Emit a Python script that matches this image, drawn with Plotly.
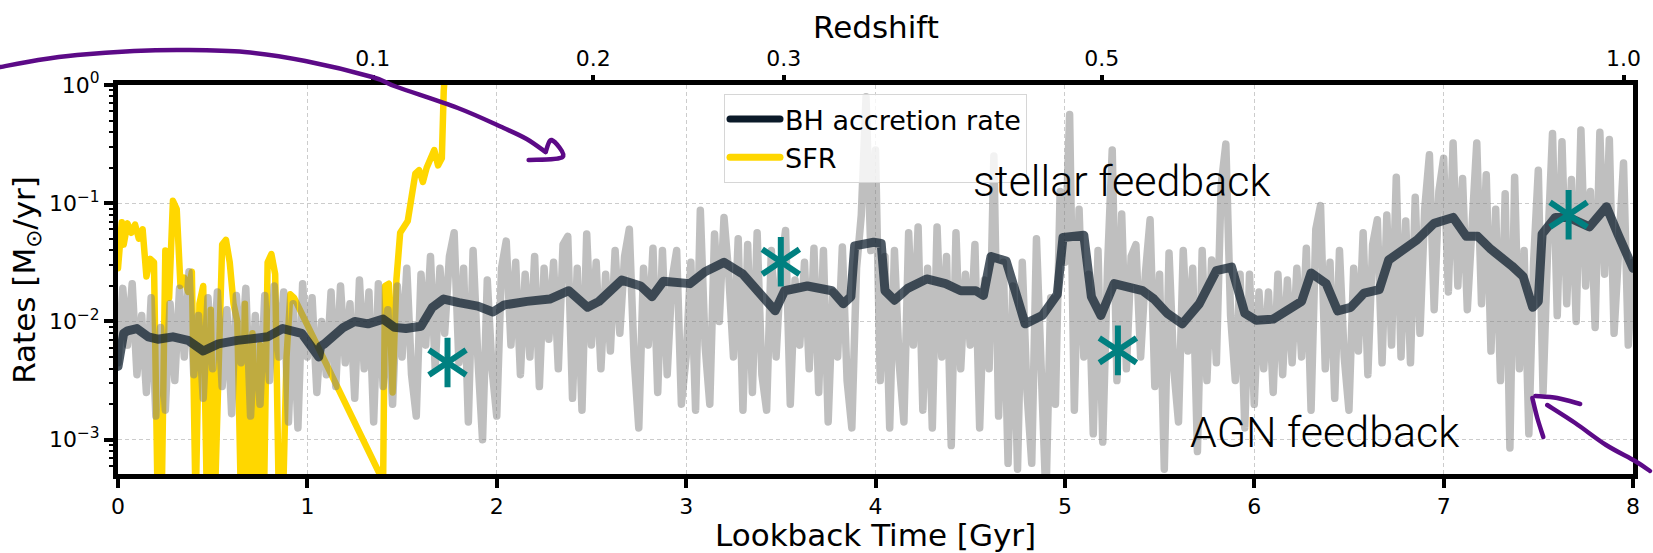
import numpy as np
import plotly.graph_objects as go

# ---------------- data ----------------
# raw BH accretion rate, log10(Msun/yr), sampled every 0.025 Gyr from 0 to 8 Gyr
bh_raw_log10 = [
    -2.35, -1.72, -2.20, -1.68, -2.45, -1.95, -2.60, -1.80, -2.80, -2.05,
    -2.75, -1.85, -2.50, -1.72, -2.30, -1.58, -2.45, -1.95, -2.65, -1.80,
    -2.40, -1.75, -2.55, -1.90, -2.78, -1.78, -2.35, -1.72, -2.80, -1.95,
    -2.70, -1.78, -2.50, -1.70, -2.30, -1.75, -2.85, -1.85, -2.90, -1.68,
    -2.30, -1.80, -2.60, -2.00, -2.45, -1.75, -2.55, -1.70, -2.35, -1.85,
    -2.65, -1.65, -2.40, -1.75, -2.85, -1.68, -2.55, -1.90, -2.70, -1.70,
    -2.30, -1.55, -2.45, -2.80, -1.60, -2.20, -1.45, -2.40, -1.55, -2.10,
    -1.45, -1.25, -2.35, -1.55, -2.85, -1.40, -2.30, -3.00, -1.65, -2.40,
    -2.80, -1.55, -1.32, -2.20, -1.50, -2.45, -1.60, -2.30, -1.45, -2.55,
    -1.55, -2.15, -1.50, -2.40, -1.35, -1.28, -2.65, -1.55, -2.75, -1.26,
    -2.20, -1.50, -2.40, -1.60, -2.25, -1.40, -2.10, -1.45, -1.22, -2.30,
    -2.90, -1.55, -2.20, -1.38, -2.60, -1.40, -2.45, -1.65, -1.40, -2.70,
    -2.30, -1.50, -2.75, -1.06, -2.20, -2.70, -1.26, -2.00, -1.12, -1.60,
    -2.30, -1.30, -2.75, -1.35, -2.60, -1.25, -2.45, -2.75, -1.40, -2.30,
    -1.55, -1.23, -2.70, -1.65, -2.20, -1.50, -2.40, -1.38, -2.60, -1.40,
    -2.85, -1.75, -2.30, -1.37, -2.50, -2.90, -1.55, -1.10, -0.10, -1.40,
    -0.55, -2.50, -1.45, -2.90, -1.40, -2.35, -2.85, -1.25, -2.20, -1.20,
    -2.75, -1.55, -2.90, -1.20, -2.30, -1.45, -3.05, -1.25, -2.40, -1.60,
    -2.20, -1.35, -2.90, -1.65, -2.40, -0.60, -2.80, -1.50, -3.20, -1.70,
    -3.25, -1.50, -2.60, -3.20, -1.30, -2.40, -3.50, -1.80, -2.70, -0.90,
    -1.50, -0.25, -2.75, -1.05, -2.30, -1.60, -2.95, -1.40, -3.02, -1.55,
    -0.55, -2.50, -1.09, -2.40, -1.45, -1.35, -2.30, -1.60, -1.14, -2.55,
    -1.60, -3.25, -1.42, -2.40, -2.85, -1.40, -2.25, -1.55, -3.10, -1.40,
    -2.50, -1.48, -2.35, -0.85, -0.50, -1.95, -2.50, -1.60, -2.90, -1.60,
    -2.70, -1.75, -2.40, -1.75, -2.60, -1.60, -2.45, -1.65, -2.35, -1.55,
    -2.30, -1.38, -2.75, -1.22, -1.02, -2.40, -1.50, -2.65, -1.40, -2.30,
    -2.75, -1.55, -2.25, -1.25, -2.45, -1.35, -1.14, -2.35, -1.10, -2.20,
    -0.78, -2.30, -1.15, -2.35, -0.95, -2.10, -1.05, -0.59, -1.90, -0.90,
    -0.62, -1.75, -0.49, -1.70, -0.79, -1.90, -1.10, -0.49, -1.85, -0.76,
    -2.25, -1.05, -2.50, -0.92, -3.07, -0.78, -2.40, -1.40, -2.95, -1.50,
    -0.72, -2.60, -1.35, -0.41, -1.95, -0.48, -1.85, -0.80, -2.00, -0.38,
    -1.70, -0.90, -2.05, -0.40, -1.60, -0.46, -2.10, -1.40, -0.66, -2.20,
    -1.50,
]

# smoothed BH accretion rate (running mean)
bh_smooth_t = [
    0.00, 0.03, 0.05, 0.10, 0.16, 0.21, 0.29, 0.37, 0.45, 0.53, 0.63, 0.79,
    0.87, 0.97, 1.06, 1.07, 1.09, 1.19, 1.25, 1.32, 1.40, 1.46, 1.52, 1.60,
    1.66, 1.72, 1.80, 1.90, 1.98, 2.04, 2.16, 2.28, 2.38, 2.48, 2.54, 2.66,
    2.76, 2.82, 2.88, 3.02, 3.10, 3.20, 3.30, 3.38, 3.47, 3.52, 3.64, 3.77,
    3.83, 3.87, 3.89, 3.99, 4.03, 4.05, 4.10, 4.17, 4.27, 4.37, 4.45, 4.53,
    4.57, 4.61, 4.69, 4.73, 4.79, 4.88, 4.96, 4.99, 5.10, 5.14, 5.19, 5.26,
    5.34, 5.41, 5.47, 5.54, 5.62, 5.71, 5.80, 5.88, 5.95, 6.01, 6.10, 6.17,
    6.25, 6.30, 6.38, 6.44, 6.51, 6.58, 6.66, 6.71, 6.80, 6.86, 6.95, 7.05,
    7.12, 7.18, 7.25, 7.31, 7.36, 7.42, 7.47, 7.50, 7.52, 7.59, 7.66, 7.77,
    7.86, 7.92, 8.00,
]
bh_smooth_log10 = [
    -2.38, -2.10, -2.08, -2.06, -2.13, -2.15, -2.13, -2.16, -2.25, -2.19, -2.16, -2.13,
    -2.06, -2.10, -2.30, -2.21, -2.19, -2.05, -2.00, -2.02, -1.98, -2.05, -2.06, -2.04,
    -1.88, -1.81, -1.84, -1.87, -1.92, -1.86, -1.83, -1.81, -1.74, -1.88, -1.83, -1.65,
    -1.70, -1.79, -1.66, -1.68, -1.58, -1.50, -1.60, -1.76, -1.91, -1.74, -1.70, -1.74,
    -1.85, -1.79, -1.36, -1.33, -1.34, -1.74, -1.82, -1.72, -1.64, -1.68, -1.74, -1.74,
    -1.78, -1.45, -1.49, -1.70, -2.02, -1.95, -1.77, -1.29, -1.27, -1.79, -1.95, -1.68,
    -1.71, -1.74, -1.81, -1.93, -2.02, -1.85, -1.57, -1.54, -1.93, -1.99, -1.98, -1.91,
    -1.83, -1.59, -1.68, -1.91, -1.88, -1.76, -1.73, -1.48, -1.38, -1.31, -1.17, -1.12,
    -1.28, -1.28, -1.39, -1.46, -1.53, -1.62, -1.88, -1.83, -1.26, -1.12, -1.12, -1.20,
    -1.03, -1.26, -1.55,
]

# star formation rate (gap between 0.93 and 1.40 Gyr)
sfr_t = [
    0.00, 0.02, 0.03, 0.05, 0.07, 0.09, 0.11, 0.13, 0.15, 0.17, 0.19, 0.21,
    0.23, 0.25, 0.27, 0.29, 0.31, 0.33, 0.35, 0.37, 0.39, 0.41, 0.43, 0.45,
    0.47, 0.49, 0.51, 0.53, 0.55, 0.57, 0.59, 0.61, 0.63, 0.65, 0.67, 0.69,
    0.71, 0.73, 0.75, 0.77, 0.79, 0.81, 0.83, 0.85, 0.87, 0.89, 0.91, 0.93,
    1.40, 1.41, 1.43, 1.45, 1.47, 1.49, 1.51, 1.53, 1.55, 1.57, 1.59, 1.61,
    1.63, 1.65, 1.67, 1.69, 1.71, 1.72, 1.74,
]
sfr_log10 = [
    -1.55, -1.16, -1.35, -1.17, -1.25, -1.18, -1.30, -1.22, -1.62, -1.47, -1.50, -3.60,
    -3.60, -1.40, -1.80, -0.98, -1.05, -1.70, -1.63, -1.75, -1.58, -3.60, -1.85, -1.70,
    -3.60, -1.90, -3.60, -2.40, -1.35, -1.31, -1.50, -1.85, -2.00, -3.60, -1.85, -3.60,
    -2.10, -3.60, -2.20, -3.60, -1.50, -1.43, -1.60, -3.60, -3.60, -2.30, -1.77, -1.80,
    -3.35, -1.70, -1.68, -2.60, -1.65, -1.25, -1.20, -1.15, -0.95, -0.75, -0.72, -0.82,
    -0.70, -0.62, -0.55, -0.68, -0.62, -0.05, 0.40,
]

# teal asterisks
star_t = [1.74, 3.50, 5.28, 7.66]
star_rate = [0.0045, 0.032, 0.0057, 0.080]

# top axis (redshift) ticks at lookback times
redshift_tick_t = [1.345, 2.51, 3.515, 5.195, 7.95]
redshift_labels = ["0.1", "0.2", "0.3", "0.5", "1.0"]

# ---------------- figure ----------------
W, H = 1653, 553
ML, MR, MT, MB = 118, 15, 85, 79
PW, PH = W - ML - MR, H - MT - MB

def px(x):
    return (x - ML) / PW

def py(y):
    return (H - MB - y) / PH

t_raw = np.linspace(0, 8, len(bh_raw_log10))
bh_raw = 10 ** np.array(bh_raw_log10)
bh_smooth = 10 ** np.array(bh_smooth_log10)
sfr = 10 ** np.array(sfr_log10)

FONT = "DejaVu Sans"
fig = go.Figure()

fig.add_trace(go.Scatter(x=sfr_t, y=sfr, mode="lines", name="SFR",
                         line=dict(color="#FFD700", width=6.5), showlegend=False))
fig.add_trace(go.Scatter(x=t_raw, y=bh_raw, mode="lines", showlegend=False,
                         line=dict(color="rgba(128,128,128,0.5)", width=7.5)))
fig.add_trace(go.Scatter(x=bh_smooth_t, y=bh_smooth, mode="lines", showlegend=False,
                         line=dict(color="rgba(10,26,42,0.72)", width=9)))
for sym in ["y-up-open", "y-down-open"]:
    fig.add_trace(go.Scatter(x=star_t, y=star_rate, mode="markers", showlegend=False,
                             marker=dict(symbol=sym, size=31, color="#008080",
                                         line=dict(width=6, color="#008080"))))
# legend entries
fig.add_trace(go.Scatter(x=[None], y=[None], mode="lines", name="BH accretion rate",
                         line=dict(color="#0b1a29", width=7)))
fig.add_trace(go.Scatter(x=[None], y=[None], mode="lines", name="SFR",
                         line=dict(color="#FFD700", width=7)))
# invisible trace to activate the top axis
fig.add_trace(go.Scatter(x=[0, 8], y=[1e-2, 1e-2], xaxis="x2", mode="lines",
                         line=dict(width=0), hoverinfo="skip", showlegend=False))

minor_vals = [m * 10.0 ** e for e in range(-4, 0) for m in range(2, 10)]

fig.update_layout(
    width=W, height=H,
    margin=dict(l=ML, r=MR, t=MT, b=MB, pad=0),
    paper_bgcolor="white", plot_bgcolor="white",
    font=dict(family=FONT, size=22, color="black"),
    xaxis=dict(range=[0, 8], tickmode="array", tickvals=list(range(0, 9)),
               ticktext=[str(i) for i in range(0, 9)],
               ticks="outside", ticklen=9, tickwidth=4, tickcolor="black",
               showline=True, linewidth=5, linecolor="black", mirror=True,
               showgrid=True, gridcolor="#cccccc", gridwidth=1, griddash="4px,3px",
               zeroline=False, tickfont=dict(size=22, family=FONT)),
    xaxis2=dict(overlaying="x", side="top", range=[0, 8], tickmode="array",
                tickvals=redshift_tick_t, ticktext=redshift_labels,
                ticks="outside", ticklen=9, tickwidth=4, tickcolor="black",
                showline=False, showgrid=False, zeroline=False,
                tickfont=dict(size=22, family=FONT)),
    yaxis=dict(type="log", range=[-3.29, 0.0], tickmode="array",
               tickvals=[1, 0.1, 0.01, 0.001],
               ticktext=["10<sup>0</sup>", "10<sup>−1</sup>", "10<sup>−2</sup>", "10<sup>−3</sup>"],
               ticks="outside", ticklen=9, tickwidth=4, tickcolor="black",
               minor=dict(tickmode="array", tickvals=minor_vals, ticks="outside",
                          ticklen=4, tickwidth=2, tickcolor="black", showgrid=False),
               showline=True, linewidth=5, linecolor="black", mirror=True,
               showgrid=True, gridcolor="#cccccc", gridwidth=1, griddash="4px,3px",
               zeroline=False, tickfont=dict(size=22, family=FONT)),
    legend=dict(x=px(726), y=py(94), xanchor="left", yanchor="top",
                bgcolor="rgba(255,255,255,0.8)", bordercolor="#d6d6d6", borderwidth=1,
                font=dict(size=27, family=FONT), tracegroupgap=0, itemwidth=50),
    showlegend=True,
)

# axis titles
fig.add_annotation(text="Lookback Time [Gyr]", xref="paper", yref="paper",
                   x=0.5, y=py(535), xanchor="center", yanchor="middle",
                   showarrow=False, font=dict(size=31, family=FONT))
fig.add_annotation(text="Redshift", xref="paper", yref="paper",
                   x=0.5, y=py(27), xanchor="center", yanchor="middle",
                   showarrow=False, font=dict(size=31, family=FONT))
fig.add_annotation(text="Rates [M<sub>⊙</sub>/yr]", xref="paper", yref="paper",
                   x=px(26), y=0.5, xanchor="center", yanchor="middle", textangle=-90,
                   showarrow=False, font=dict(size=31, family=FONT))

# hand-written notes
NOTE_FONT = dict(size=43, family="Roboto", color="black", weight=300)
fig.add_annotation(text="stellar feedback", xref="paper", yref="paper",
                   x=px(1125), y=py(181), xanchor="center", yanchor="middle",
                   showarrow=False, font=NOTE_FONT)
fig.add_annotation(text="AGN feedback", xref="paper", yref="paper",
                   x=px(1328), y=py(432), xanchor="center", yanchor="middle",
                   showarrow=False, font=NOTE_FONT)

# hand-drawn purple arrows (pixel coordinates of the strokes)
def smooth_path(pts):
    p = [(px(x), py(y)) for x, y in pts]
    d = "M%.5f,%.5f" % p[0]
    for i in range(len(p) - 1):
        p0 = p[i - 1] if i > 0 else p[i]
        p1, p2 = p[i], p[i + 1]
        p3 = p[i + 2] if i + 2 < len(p) else p2
        c1 = (p1[0] + (p2[0] - p0[0]) / 6, p1[1] + (p2[1] - p0[1]) / 6)
        c2 = (p2[0] - (p3[0] - p1[0]) / 6, p2[1] - (p3[1] - p1[1]) / 6)
        d += " C%.5f,%.5f %.5f,%.5f %.5f,%.5f" % (c1 + c2 + p2)
    return d

PURPLE = "#5c0a87"
strokes = [
    [(0, 67), (38, 60), (77, 55), (134, 51), (184, 50), (245, 52), (306, 61),
     (373, 77), (398, 87), (459, 108), (505, 128), (528, 139), (547, 152)],
    [(547, 152), (553, 140), (564, 157), (530, 160)],
    [(1552, 405), (1580, 423), (1611, 445), (1640, 461), (1655, 471)],
    [(1537, 398), (1542, 418), (1548, 437)],
    [(1540, 396), (1562, 398), (1585, 404)],
]
for s in strokes:
    fig.add_shape(type="path", xref="paper", yref="paper", path=smooth_path(s),
                  line=dict(color=PURPLE, width=4.5), layer="above")

post = """
var st = document.createElement('style');
st.innerHTML = '.js-line{stroke-linejoin:round !important;stroke-linecap:round !important;} .shapelayer path{stroke-linejoin:round;stroke-linecap:round;}';
document.head.appendChild(st);
"""
fig.write_html("out.html", post_script=post)
